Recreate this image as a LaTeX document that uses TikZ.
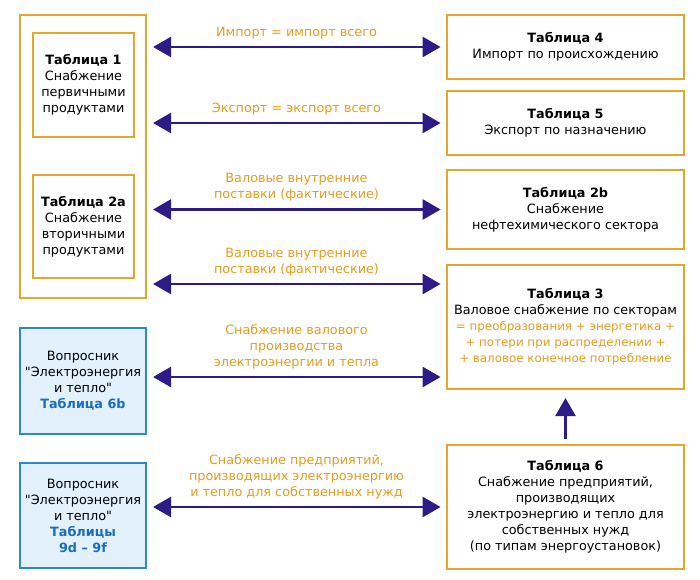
\documentclass[tikz,border=0pt]{standalone}
\usepackage{fontspec}
\setmainfont{DejaVu Sans}
\usepackage{xcolor}
\usetikzlibrary{positioning,arrows.meta}
\definecolor{TabGold}{HTML}{E3A82B}
\definecolor{LabelOrange}{HTML}{E89B1C}
\definecolor{QBlue}{HTML}{2A8ACB}
\definecolor{QFill}{HTML}{E2F1FB}
\definecolor{QText}{HTML}{1A6CC0}
\definecolor{ArrowIndigo}{HTML}{2D1C88}

\begin{document}
\begin{tikzpicture}[x=0.75pt,y=-0.75pt,
    font=\fontsize{9.6}{12}\selectfont,
    tbl/.style={draw=TabGold, line width=1.6pt, fill=white, align=center, inner sep=0pt},
    lefttbl/.style={tbl, minimum width=75.75pt},
    righttbl/.style={tbl, minimum width=177.75pt},
    quest/.style={draw=QBlue, line width=1.6pt, fill=QFill, align=center, inner sep=0pt, minimum width=94.5pt},
    flow/.style={draw=ArrowIndigo, line width=2pt, {Triangle[length=13.5pt,width=15pt]}-{Triangle[length=13.5pt,width=15pt]}, shorten <=4.5pt, shorten >=4pt},
    upflow/.style={draw=ArrowIndigo, line width=2pt, -{Triangle[length=13.5pt,width=15pt]}, shorten <=3.75pt, shorten >=6pt},
    flowlbl/.style={text=LabelOrange, align=center, inner sep=0pt, above=5pt}
  ]
  \useasboundingbox (0,0) rectangle (700,579);

  % Left column: primary and secondary products
  \node[tbl, minimum width=94.5pt, minimum height=212.25pt] (outer) at (83,156.5) {};
  \node[lefttbl, minimum height=78pt] (t1) at (83.5,85) {\textbf{Таблица 1}\\Снабжение\\первичными\\продуктами};
  \node[lefttbl, minimum height=77.25pt] (t2a) at (83.5,226.5) {\textbf{Таблица 2a}\\Снабжение\\вторичными\\продуктами};

  % Questionnaire boxes
  \node[quest, minimum height=79.5pt] (q6b) at (83,381) {Вопросник\\\textquotedbl Электроэнергия\\и тепло\textquotedbl\\{\color{QText}\textbf{Таблица 6b}}};
  \node[quest, minimum height=78.75pt] (q9) at (83,515.5) {Вопросник\\\textquotedbl Электроэнергия\\и тепло\textquotedbl\\{\color{QText}\textbf{Таблицы}}\\{\color{QText}\textbf{9d -- 9f}}};

  % Right column
  \node[righttbl, minimum height=48pt] (t4) at (565.5,47) {\textbf{Таблица 4}\\Импорт по происхождению};
  \node[righttbl, minimum height=48pt] (t5) at (565.5,123) {\textbf{Таблица 5}\\Экспорт по назначению};
  \node[righttbl, minimum height=59.25pt] (t2b) at (565.5,209.5) {\textbf{Таблица 2b}\\Снабжение\\нефтехимического сектора};
  \node[righttbl, minimum height=93pt] (t3) at (565.5,327) {\textbf{Таблица 3}\\Валовое снабжение по секторам\\{\fontsize{8.9}{12}\selectfont\color{LabelOrange}= преобразования + энергетика +}\\{\fontsize{8.9}{12}\selectfont\color{LabelOrange}+ потери при распределении +}\\{\fontsize{8.9}{12}\selectfont\color{LabelOrange}+ валовое конечное потребление}};
  \node[righttbl, minimum height=93pt] (t6) at (565.5,507) {\textbf{Таблица 6}\\Снабжение предприятий,\\производящих\\электроэнергию и тепло для\\собственных нужд\\(по типам энергоустановок)};

  \coordinate (t3in) at ([yshift=32.25pt]t3.west);
  \coordinate (t3gross) at ([yshift=-37.5pt]t3.west);

  % Flows
  \draw[flow] (outer.east |- t4.west) -- node[flowlbl] (l4) {Импорт = импорт всего} (t4.west);
  \draw[flow] (outer.east |- t5.west) -- node[flowlbl] (l5) {Экспорт = экспорт всего} (t5.west);
  \draw[flow] (outer.east |- t2b.west) -- node[flowlbl] (l2b) {Валовые внутренние\\поставки (фактические)} (t2b.west);
  \draw[flow] (outer.east |- t3in) -- node[flowlbl] (l3) {Валовые внутренние\\поставки (фактические)} (t3in);
  \draw[flow] (q6b.east |- t3gross) -- node[flowlbl] (l6b) {Снабжение валового\\производства\\электроэнергии и тепла} (t3gross);
  \draw[flow] (q9.east |- t6.west) -- node[flowlbl] (l9) {Снабжение предприятий,\\производящих электроэнергию\\и тепло для собственных нужд} (t6.west);
  \draw[upflow] (t6.north) -- (t3.south);
\end{tikzpicture}
\end{document}
